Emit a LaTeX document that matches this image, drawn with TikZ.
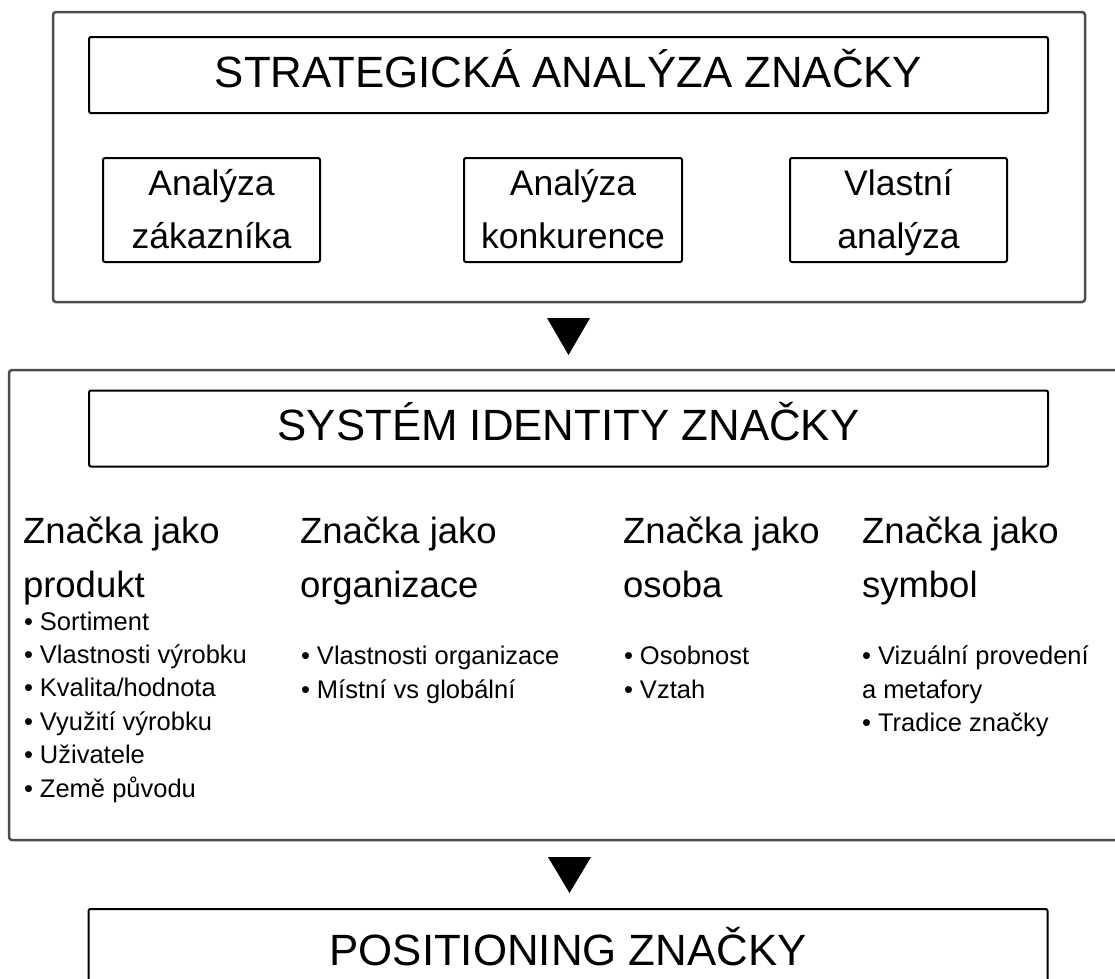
\documentclass[tikz,border=0pt]{standalone}
\usepackage{fontspec}
\setmainfont{Liberation Sans}

\begin{document}
\begin{tikzpicture}[x=1pt,y=-1pt,line width=2pt]
\tikzstyle{panel}=[draw=black!70,line width=2.5pt,rounded corners=3pt,inner sep=0pt];
\tikzstyle{title}=[draw,rounded corners=2pt,minimum width=959pt,minimum height=76pt,inner sep=0pt,text height=24pt,text depth=0pt,font=\fontsize{43.8}{50}\selectfont];
\tikzstyle{sub}=[draw,rounded corners=2pt,minimum height=104pt,inner sep=0pt,align=center,text height=79pt,text depth=3pt,font=\fontsize{35.5}{53}\selectfont];
\tikzstyle{head}=[anchor=base west,inner sep=0pt,align=left,font=\fontsize{36.5}{54}\selectfont];
\tikzstyle{item}=[anchor=base west,inner sep=0pt,align=left,font=\fontsize{25.5}{33.4}\selectfont];
\tikzstyle{tri}=[fill=black];

\useasboundingbox (0,0) rectangle (1115,978);
\clip (0,0) rectangle (1115,978);

% stage 1
\node [panel,minimum width=1032pt,minimum height=290pt] (strat) at (569,157) {};
\node [title] (t1) at (568.5,75) {STRATEGICKÁ ANALÝZA ZNAČKY};
\node [sub,minimum width=217pt] (a1) at (211.5,210) {Analýza\\zákazníka};
\node [sub,minimum width=218pt] (a2) at (573,210) {Analýza\\konkurence};
\node [sub,minimum width=217pt] (a3) at (898.5,210) {Vlastní\\analýza};

\fill [tri] (547,318) -- (590,318) -- (568.5,355) -- cycle;

% stage 2
\node [panel,minimum width=1119pt,minimum height=470pt] (ident) at (568.5,605) {};
\node [title] (t2) at (568.5,428.5) {SYSTÉM IDENTITY ZNAČKY};

% base of a multi-line node = its last line
\node [head] (h1) at (22,597) {Značka jako\\produkt};
\node [head] (h2) at (299,597) {Značka jako\\organizace};
\node [head] (h3) at (622,597) {Značka jako\\osoba};
\node [head] (h4) at (861,597) {Značka jako\\symbol};

\node [item] (l1) at (23,797) {• Sortiment\\• Vlastnosti výrobku\\• Kvalita/hodnota\\• Využití výrobku\\• Uživatele\\• Země původu};
\node [item] (l2) at (300,698) {• Vlastnosti organizace\\• Místní vs globální};
\node [item] (l3) at (623,698) {• Osobnost\\• Vztah};
\node [item] (l4) at (861,731.5) {• Vizuální provedení\\a metafory\\• Tradice značky};

\fill [tri] (548,857) -- (591,857) -- (569.5,893) -- cycle;

% stage 3
\node [title,minimum height=88pt] (t3) at (568,953) {POSITIONING ZNAČKY};
\end{tikzpicture}
\end{document}
